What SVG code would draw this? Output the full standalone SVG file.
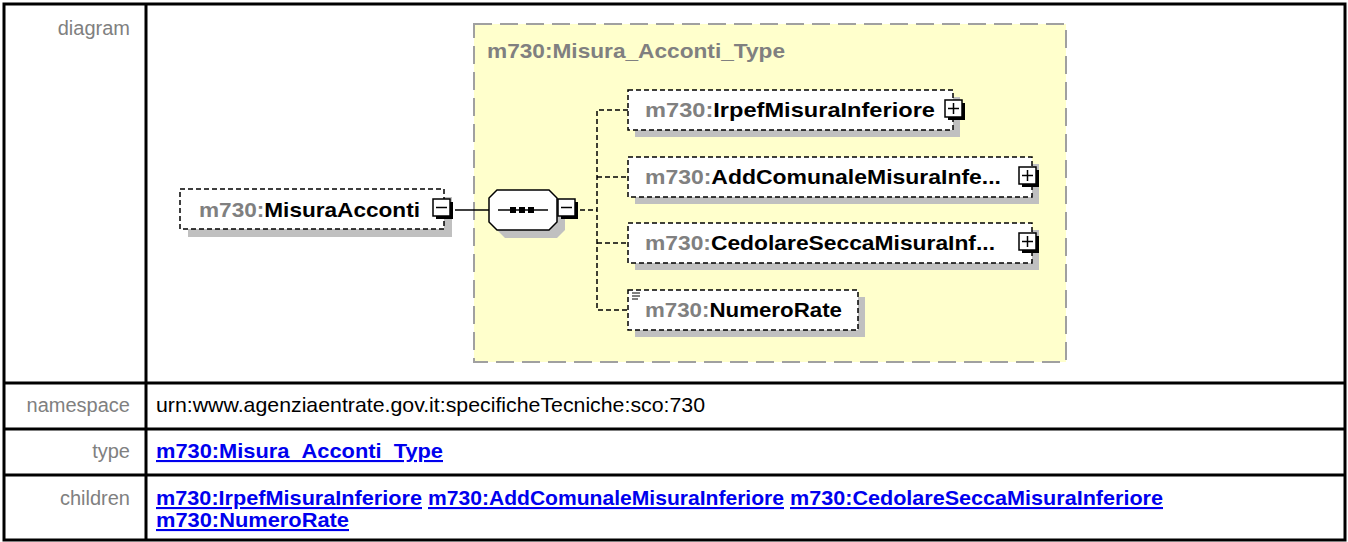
<svg xmlns="http://www.w3.org/2000/svg" width="1348" height="542" viewBox="0 0 1348 542">
<style>
.lbl{font-family:"Liberation Sans",Arial,sans-serif;font-size:20px;fill:#808080;text-anchor:end}
.val{font-family:"Liberation Sans",Arial,sans-serif;font-size:21px;fill:#000}
.lnk{font-family:"Liberation Sans",Arial,sans-serif;font-size:21px;font-weight:bold;fill:#0000ee;text-decoration:underline}
.nt{font-family:"Liberation Sans",Arial,sans-serif;font-size:21px;font-weight:bold;fill:#000}
.pfx{fill:#808080}
.ttl{font-family:"Liberation Sans",Arial,sans-serif;font-size:21px;font-weight:bold;fill:#808080}
.box{fill:#fff;stroke:#000;stroke-width:1.5;stroke-dasharray:5 3}
.shd{fill:#c0c0c0}
.dash{fill:none;stroke:#000;stroke-width:1.5;stroke-dasharray:5 3}
.solid{fill:none;stroke:#000;stroke-width:1.5}
.grid{stroke:#000;stroke-width:3;fill:none}
</style>
<defs>
<g id="plus">
<rect x="3" y="3" width="17" height="17" fill="#000"/>
<rect x="0" y="0" width="17" height="17" fill="#fff" stroke="#000" stroke-width="1.5"/>
<line x1="3" y1="8.5" x2="14" y2="8.5" stroke="#000" stroke-width="1.5"/>
<line x1="8.5" y1="3" x2="8.5" y2="14" stroke="#000" stroke-width="1.5"/>
</g>
<g id="minus">
<rect x="3" y="3" width="17" height="17" fill="#000"/>
<rect x="0" y="0" width="17" height="17" fill="#fff" stroke="#000" stroke-width="1.5"/>
<line x1="3" y1="8.5" x2="14" y2="8.5" stroke="#000" stroke-width="1.5"/>
</g>
</defs>
<rect width="1348" height="542" fill="#fff"/>
<g id="table">
<rect class="grid" x="4" y="4" width="1341" height="536"/>
<line class="grid" x1="146" y1="4" x2="146" y2="540"/>
<line class="grid" x1="4" y1="383" x2="1345" y2="383"/>
<line class="grid" x1="4" y1="429" x2="1345" y2="429"/>
<line class="grid" x1="4" y1="475" x2="1345" y2="475"/>
<text class="lbl" x="130" y="35">diagram</text>
<text class="lbl" x="130" y="412">namespace</text>
<text class="lbl" x="130" y="458">type</text>
<text class="lbl" x="130" y="505">children</text>
<text class="val" x="156" y="412" textLength="549" lengthAdjust="spacingAndGlyphs">urn:www.agenziaentrate.gov.it:specificheTecniche:sco:730</text>
<text class="lnk" x="156" y="458" textLength="287" lengthAdjust="spacingAndGlyphs">m730:Misura_Acconti_Type</text>
<text class="lnk" x="156" y="505" textLength="266" lengthAdjust="spacingAndGlyphs">m730:IrpefMisuraInferiore</text>
<text class="lnk" x="428" y="505" textLength="356" lengthAdjust="spacingAndGlyphs">m730:AddComunaleMisuraInferiore</text>
<text class="lnk" x="790" y="505" textLength="373" lengthAdjust="spacingAndGlyphs">m730:CedolareSeccaMisuraInferiore</text>
<text class="lnk" x="156" y="527" textLength="193" lengthAdjust="spacingAndGlyphs">m730:NumeroRate</text>
</g>
<g id="type-box">
<rect x="474" y="24" width="592" height="338" fill="#ffffcc" stroke="#a0a0a0" stroke-width="2" stroke-dasharray="18 8"/>
<text class="ttl" x="487" y="58" textLength="298" lengthAdjust="spacingAndGlyphs">m730:Misura_Acconti_Type</text>
</g>
<g id="connectors">
<line class="solid" x1="455" y1="210" x2="489" y2="210"/>
<line class="dash" x1="580" y1="210" x2="597" y2="210"/>
<path class="dash" d="M628 110 H597 V310 H628"/>
<line class="dash" x1="597" y1="177" x2="628" y2="177"/>
<line class="dash" x1="597" y1="243" x2="628" y2="243"/>
</g>
<g id="MisuraAcconti">
<rect class="shd" x="188" y="197" width="264" height="40"/>
<rect class="box" x="180" y="189" width="264" height="40"/>
<text class="nt" x="199" y="217" textLength="221" lengthAdjust="spacingAndGlyphs"><tspan class="pfx">m730:</tspan>MisuraAcconti</text>
<use href="#minus" x="433" y="199"/>
</g>
<g id="sequence">
<polygon class="shd" points="505,198 557,198 565,206 565,230 557,238 505,238 497,230 497,206"/>
<polygon points="497,190 549,190 557,198 557,222 549,230 497,230 489,222 489,198" fill="#fff" stroke="#000" stroke-width="1.5"/>
<line x1="498" y1="210" x2="548" y2="210" stroke="#000" stroke-width="1.5"/>
<rect x="510" y="207" width="6" height="6" fill="#000"/>
<rect x="519" y="207" width="6" height="6" fill="#000"/>
<rect x="528" y="207" width="6" height="6" fill="#000"/>
<use href="#minus" x="558" y="199"/>
</g>
<g id="IrpefMisuraInferiore">
<rect class="shd" x="635" y="97" width="325" height="40"/>
<rect class="box" x="628" y="90" width="325" height="40"/>
<text class="nt" x="645" y="117" textLength="290" lengthAdjust="spacingAndGlyphs"><tspan class="pfx">m730:</tspan>IrpefMisuraInferiore</text>
<use href="#plus" x="945" y="100"/>
</g>
<g id="AddComunaleMisuraInferiore">
<rect class="shd" x="635" y="164" width="404" height="40"/>
<rect class="box" x="628" y="157" width="404" height="40"/>
<text class="nt" x="645" y="184" textLength="356" lengthAdjust="spacingAndGlyphs"><tspan class="pfx">m730:</tspan>AddComunaleMisuraInfe...</text>
<use href="#plus" x="1019" y="167"/>
</g>
<g id="CedolareSeccaMisuraInferiore">
<rect class="shd" x="635" y="230" width="404" height="40"/>
<rect class="box" x="628" y="223" width="404" height="40"/>
<text class="nt" x="645" y="250" textLength="350" lengthAdjust="spacingAndGlyphs"><tspan class="pfx">m730:</tspan>CedolareSeccaMisuraInf...</text>
<use href="#plus" x="1019" y="233"/>
</g>
<g id="NumeroRate">
<rect class="shd" x="635" y="297" width="230" height="40"/>
<rect class="box" x="628" y="290" width="230" height="40"/>
<text class="nt" x="645" y="317" textLength="197" lengthAdjust="spacingAndGlyphs"><tspan class="pfx">m730:</tspan>NumeroRate</text>
<g stroke="#000" stroke-width="1">
<line x1="632" y1="293" x2="640" y2="293"/>
<line x1="632" y1="296" x2="640" y2="296"/>
<line x1="632" y1="299" x2="638" y2="299"/>
</g>
</g>
</svg>
